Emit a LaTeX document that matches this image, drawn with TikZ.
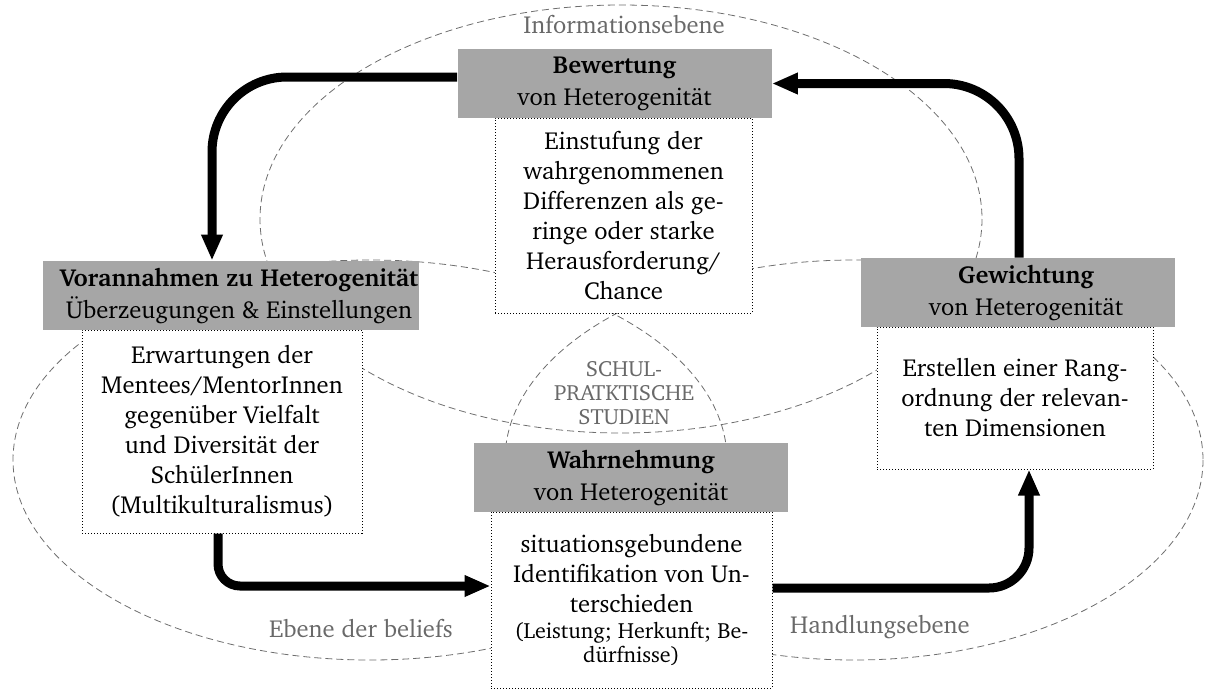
\documentclass[tikz,border=0pt]{standalone}
\usepackage[T1]{fontenc}
\usepackage{charter}
\usetikzlibrary{arrows.meta}
\definecolor{hdrgray}{RGB}{166,166,166}
\definecolor{lblgray}{RGB}{105,105,105}
\definecolor{ringgray}{RGB}{110,110,110}
\begin{document}
\begin{tikzpicture}[x=0.5pt,y=-0.5pt,
  ring/.style={draw=ringgray, line width=0.4pt, dash pattern=on 3.5pt off 2pt},
  header/.style={fill=hdrgray, minimum height=34.5pt, inner sep=0pt, align=center,
    font=\fontsize{12.3}{16}\selectfont},
  bodybox/.style={draw=black, fill=white, line width=0.5pt, densely dotted, inner sep=0pt,
    align=center, font=\fontsize{12.3}{15}\selectfont},
  level/.style={text=lblgray, align=center, font=\fontsize{12.3}{15}\selectfont},
  flow/.style={line width=4.5pt, -{Triangle[length=13pt,width=10pt]}}
]
\path[use as bounding box] (0,0) rectangle (1205,691);

% the three levels
\draw[ring] (621,219) ellipse [x radius=361, y radius=214];
\draw[ring] (370,460) ellipse [x radius=357, y radius=200];
\draw[ring] (854,460) ellipse [x radius=349, y radius=200];

\node[level] (info) at (624,25) {Informationsebene};
\node[level] (beliefs) at (361,629) {Ebene der beliefs};
\node[level] (handlung) at (880,627) {Handlungsebene};
\node[level, font=\fontsize{11}{12}\selectfont] (schul) at (624,393) {SCHUL-\\PRATKTISCHE\\STUDIEN};

% description boxes
\node[bodybox, minimum width=128.5pt, minimum height=97.5pt] (bewB) at (623.5,215.5)
  {Einstufung der\\wahrgenommenen\\Differenzen als ge-\\ringe oder starke\\Herausforderung/\\Chance};
\node[bodybox, minimum width=140pt, minimum height=101.5pt] (vorB) at (222,431.5)
  {Erwartungen der\\Mentees/MentorInnen\\gegen\"uber Vielfalt\\und Diversit\"at der\\Sch\"ulerInnen\\(Multikulturalismus)};
\node[bodybox, minimum width=140.5pt, minimum height=88pt] (wahB) at (631.5,600)
  {situationsgebundene\\Identifikation von Un-\\terschieden\\[-2pt]
   {\fontsize{11}{12}\selectfont (Leistung; Herkunft; Be-}\\[-3pt]
   {\fontsize{11}{12}\selectfont d\"urfnisse)}};
\node[bodybox, minimum width=138pt, minimum height=71pt] (gewB) at (1015,398)
  {Erstellen einer Rang-\\ordnung der relevan-\\ten Dimensionen};

% headings
\node[header, minimum width=157pt] (bewH) at (614.5,83.5)
  {\textbf{Bewertung}\\von Heterogenit\"at};
\node[header, minimum width=188pt] (vorH) at (231,295.5)
  {\hspace*{8pt}\textbf{Vorannahmen zu Heterogenit\"at}\\\hspace*{8pt}\"Uberzeugungen \& Einstellungen};
\node[header, minimum width=157pt] (wahH) at (631,477.5)
  {\textbf{Wahrnehmung}\\von Heterogenit\"at};
\node[header, minimum width=157pt] (gewH) at (1018,292.5)
  {\hspace*{8pt}\textbf{Gewichtung}\\\hspace*{8pt}von Heterogenit\"at};

% cycle
\draw[flow, rounded corners=37.5pt] ([yshift=3.25pt]bewH.west) -| ([xshift=-9.5pt]vorH.north);
\draw[flow, rounded corners=37.5pt] ([xshift=0.5pt]gewH.north) |- (bewH.east);
\draw[flow, rounded corners=11pt] ([xshift=-2pt]vorB.south) |- ([yshift=7pt]wahB.west);
\draw[flow, rounded corners=20pt] ([yshift=6pt]wahB.east) -| ([xshift=7pt]gewB.south);
\end{tikzpicture}
\end{document}
